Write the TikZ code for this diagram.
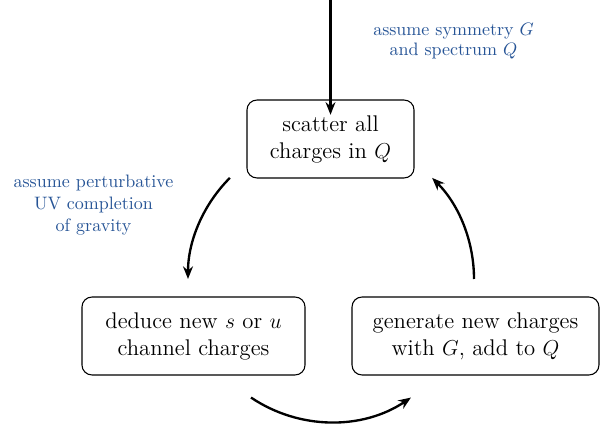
\documentclass[tikz,border=0pt]{standalone}
\usetikzlibrary{arrows.meta}
\definecolor{noteblue}{RGB}{38,84,150}
\begin{document}
\begin{tikzpicture}[x=0.5556pt,y=0.5556pt,
  box/.style={draw, rounded corners=5.5pt, line width=0.6pt, align=center,
    minimum height=43.3pt, inner sep=0pt, font=\fontsize{12.6}{15}\selectfont},
  note/.style={text=noteblue, align=center, font=\fontsize{10}{10.8}\selectfont},
  flow/.style={line width=1.3pt, -{Stealth[length=7pt,width=5.5pt]}}]
\useasboundingbox (0,0) rectangle (607,-432);
\node[box, minimum width=92.8pt] (scat) at (330.5,-139) {scatter all\\charges in $Q$};
\node[box, minimum width=123.9pt] (ded) at (193.5,-336) {deduce new $s$ or $u$\\channel charges};
\node[box, minimum width=137.2pt] (gen) at (475.5,-336) {generate new charges\\with $G$, add to $Q$};
\coordinate (top) at (330.5,0);
\draw[flow] (top) -- ([yshift=-8.5pt]scat.north);
\node[note] (n1) at (453.5,-41) {assume symmetry $G$\\and spectrum $Q$};
\node[note, font=\fontsize{10}{12.2}\selectfont] (n2) at (93.5,-205) {assume perturbative\\UV completion\\of gravity};
\coordinate (c) at (331,-279);
\draw[flow] (c) ++(135:143) arc (135:180:143);
\draw[flow] (c) ++(236:143) arc (236:304:143);
\draw[flow] (c) ++(0:143) arc (0:45:143);
\end{tikzpicture}
\end{document}
